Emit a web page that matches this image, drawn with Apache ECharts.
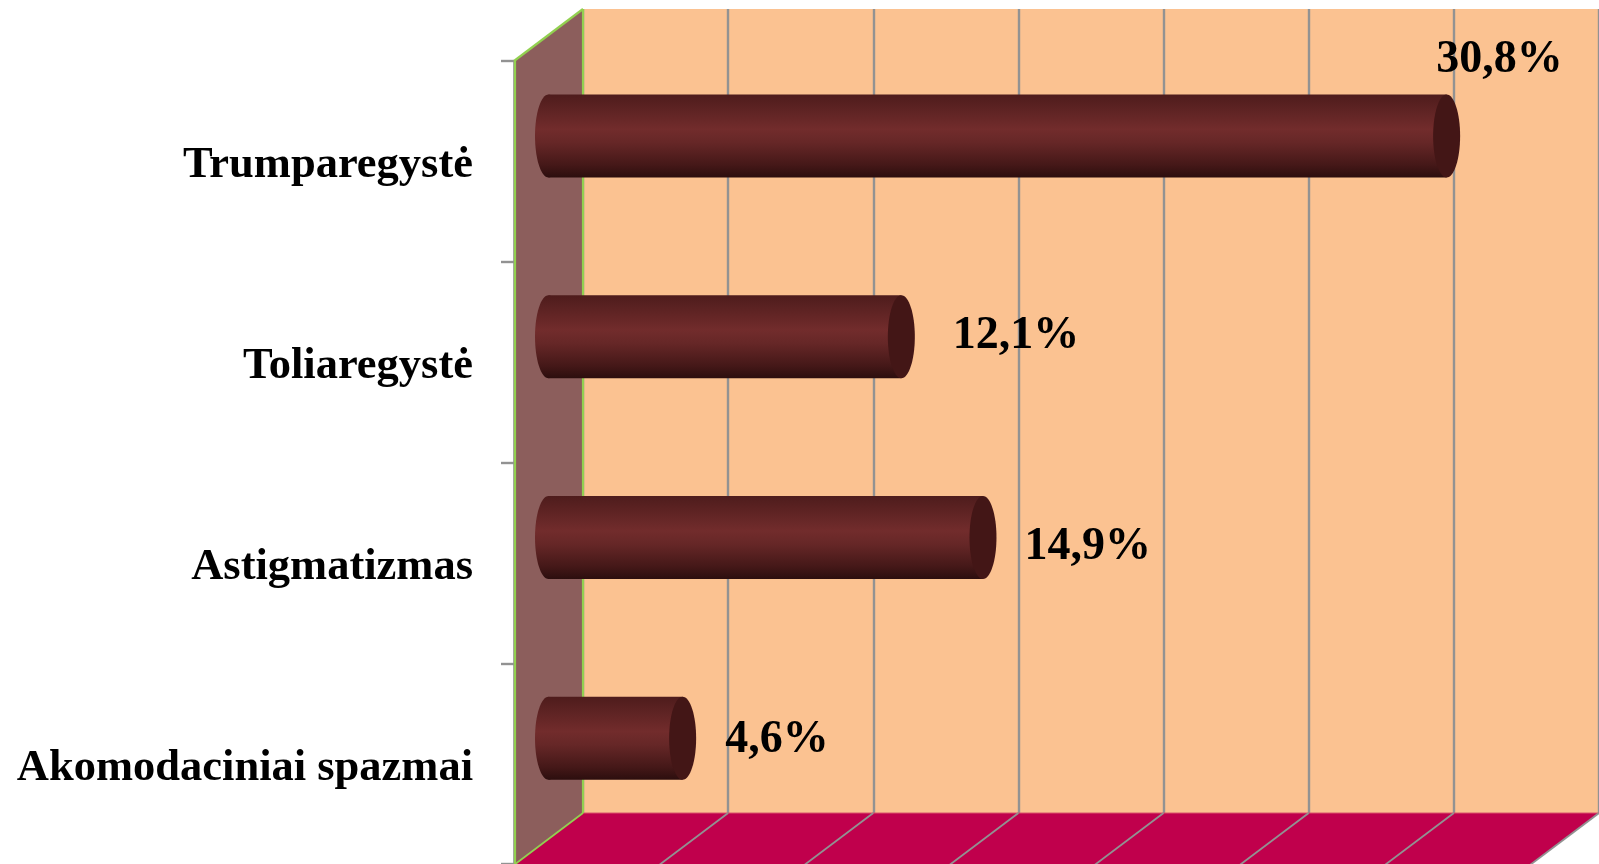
<!DOCTYPE html>
<html><head><meta charset="utf-8">
<style>html,body{margin:0;padding:0;background:#fff}#c{width:1599px;height:864px}</style>
<script src="https://cdn.jsdelivr.net/npm/echarts@6/dist/echarts.min.js"></script>
</head><body><div id="c"></div>
<script>
const categories = ['Trumparegystė', 'Toliaregystė', 'Astigmatizmas', 'Akomodaciniai spazmai'];
const values = [30.8, 12.1, 14.9, 4.6];
const valueLabels = ['30,8%', '12,1%', '14,9%', '4,6%'];
const xMax = 35, xStep = 5;
const xTicks = [0, 5, 10, 15, 20, 25, 30, 35];

// presentation only
const depthX = 69, depthY = 52;
const labelDx = [-24, 38, 28, 29];
const labelDy = [-76, -1, 10, 2];
const FONT = '"Liberation Serif","Times New Roman",serif';
const GREEN = '#92D050', GREY = '#929292';

const chart = echarts.init(document.getElementById('c'), null, {renderer: 'canvas'});
const plotW = 1020.6, plotH = 804;

chart.setOption({
  animation: false,
  backgroundColor: '#fff',
  grid: [
    {left: 583, top: 9, width: plotW, height: plotH, show: true, backgroundColor: '#FBC291', borderWidth: 0},
    {left: 514, top: 9 + depthY, width: plotW, height: plotH, show: false}
  ],
  xAxis: [
    {gridIndex: 0, type: 'value', min: 0, max: xMax, interval: xStep,
     axisLabel: {show: false}, axisTick: {show: false}, axisLine: {show: false},
     splitLine: {show: true, lineStyle: {color: GREY, width: 2.4}}},
    {gridIndex: 1, type: 'value', min: 0, max: xMax, interval: xStep, show: false}
  ],
  yAxis: [
    {gridIndex: 0, type: 'category', inverse: true, data: categories, show: false},
    {gridIndex: 1, type: 'category', inverse: true, data: categories,
     axisLine: {show: true, lineStyle: {color: '#A8A8A8', width: 2}},
     axisTick: {show: true, length: 13, lineStyle: {color: GREY, width: 2.4}},
     splitLine: {show: false},
     axisLabel: {show: true, margin: 41, color: '#000', fontFamily: FONT, fontWeight: 'bold', fontSize: 44.5,
       verticalAlign: 'top', lineHeight: 9}}
  ],
  series: [
    {
      type: 'custom', coordinateSystem: 'cartesian2d', xAxisIndex: 0, yAxisIndex: 0, silent: true, z: 3, clip: false,
      data: [0],
      renderItem(params, api) {
        const r = params.coordSys;
        const L = r.x, T = r.y, B = r.y + r.height, R = r.x + r.width;
        const kids = [
          {type: 'polygon', shape: {points: [[L, T], [L - depthX, T + depthY], [L - depthX, B + depthY], [L, B]]}, style: {fill: '#8C5E5C'}},
          {type: 'polygon', shape: {points: [[L, B], [R, B], [R - depthX, B + depthY], [L - depthX, B + depthY]]}, style: {fill: '#C0004C'}},
          {type: 'line', shape: {x1: L, y1: B, x2: R, y2: B}, style: {stroke: '#D9546A', lineWidth: 1}}
        ];
        xTicks.forEach(v => {
          const x = api.coord([v, 0])[0];
          kids.push({type: 'line', shape: {x1: x, y1: B, x2: x - depthX, y2: B + depthY},
            style: {stroke: v === 0 ? GREEN : GREY, lineWidth: 1.8}});
        });
        [[L, T, L - depthX, T + depthY], [L - depthX + 1, T + depthY, L - depthX + 1, B + depthY], [L, T, L, B]].forEach(s => {
          kids.push({type: 'line', shape: {x1: s[0], y1: s[1], x2: s[2], y2: s[3]}, style: {stroke: GREEN, lineWidth: 2.2}});
        });
        return {type: 'group', children: kids};
      }
    },
    {
      type: 'custom', coordinateSystem: 'cartesian2d', xAxisIndex: 1, yAxisIndex: 1, z: 5, clip: false,
      data: values.map((v, i) => [v, i]),
      encode: {x: 0, y: 1},
      renderItem(params, api) {
        const i = params.dataIndex;
        const end = api.coord([api.value(0), api.value(1)]);
        const start = api.coord([0, api.value(1)]);
        const ox = depthX / 2, oy = -depthY / 2;
        const x0 = start[0] + ox, x1 = end[0] + ox, cy = end[1] + oy + 0.5;
        const ry = 41.5, rx = 13.5;
        const grad = new echarts.graphic.LinearGradient(0, 0, 0, 1, [
          {offset: 0, color: '#4E1C1C'},
          {offset: 0.42, color: '#722C2C'},
          {offset: 0.58, color: '#662727'},
          {offset: 0.85, color: '#451818'},
          {offset: 1, color: '#2C0E0E'}
        ]);
        return {type: 'group', children: [
          {type: 'ellipse', shape: {cx: x0, cy, rx, ry}, style: {fill: grad}},
          {type: 'rect', shape: {x: x0, y: cy - ry, width: x1 - x0, height: 2 * ry}, style: {fill: grad}},
          {type: 'ellipse', shape: {cx: x1, cy, rx, ry}, style: {fill: '#431616'}},
          {type: 'text', style: {
            x: x1 + rx + labelDx[i], y: cy + labelDy[i], text: valueLabels[i],
            fill: '#000', font: 'bold 46px ' + FONT, textAlign: 'left', textVerticalAlign: 'middle'
          }}
        ]};
      }
    }
  ]
});
</script></body></html>
